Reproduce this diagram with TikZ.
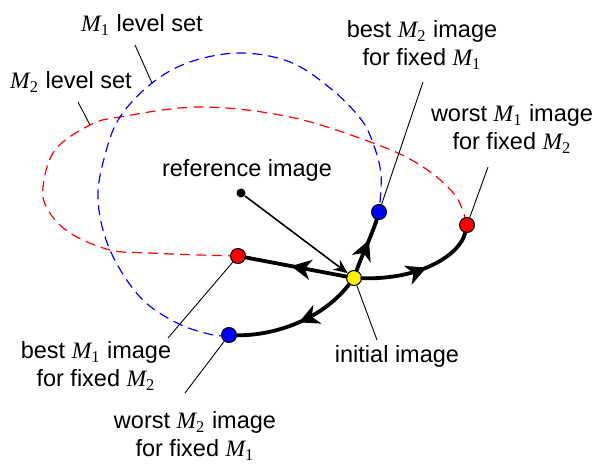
\documentclass[tikz,border=0pt]{standalone}
\usepackage{fontspec}
\setmainfont{Liberation Sans}
\newfontfamily\serifM{Liberation Serif}
\newcommand{\Mx}[1]{{\serifM\itshape M}\textsubscript{\serifM #1}}
\usetikzlibrary{arrows.meta, decorations.markings}

\begin{document}
\begin{tikzpicture}[x=0.5pt, y=-0.5pt,
  lbl/.style={font=\fontsize{11.75}{14}\selectfont, align=center, inner sep=0pt},
  dot/.style={circle, draw=black, line width=0.5pt, minimum size=7.5pt, inner sep=0pt},
  leader/.style={draw=black, line width=0.45pt},
  levelset/.style={dash pattern=on 5pt off 3pt, line width=0.6pt},
  move/.style={line width=1.9pt, line cap=round, postaction={decorate},
    decoration={markings, mark=at position #1 with {\arrow{Stealth[length=10pt,width=10pt,inset=3pt]}}}},
  move/.default=0.5,
]
\useasboundingbox (0,0) rectangle (593,464);

\draw[levelset, red] plot[smooth, tension=0.6] coordinates {(238,256) (200,255) (150,253)
  (110,250) (70,233) (48,210) (43,187) (55,150) (90,125) (120,117) (200,107) (290,117)
  (373,143) (420,165) (455,195) (467,225)};
\draw[levelset, blue] plot[smooth, tension=0.6] coordinates {(229,335) (213,335) (177,323)
  (140,297) (110,250) (98,200) (105,155) (120,117) (152,83) (190,62) (240,53) (290,62)
  (330,88) (360,118) (373,143) (381,175) (379,212)};

\node[dot, fill=yellow] (init) at (354,278) {};
\node[dot, fill=blue] (bestB) at (379,212) {};
\node[dot, fill=red] (worstR) at (467,225) {};
\node[dot, fill=red] (bestR) at (238,256) {};
\node[dot, fill=blue] (worstB) at (229,335) {};
\node[circle, fill=black, minimum size=4.5pt, inner sep=0pt] (ref) at (241,193) {};

\node[lbl] (refLbl) at (247,170) {reference image};
\node[lbl] (initLbl) at (397,356) {initial image};
\node[lbl] (m1Lbl) at (142,25) {\Mx{1} level set};
\node[lbl] (m2Lbl) at (71,82) {\Mx{2} level set};
\node[lbl] (bestBLbl) at (422,45) {best \Mx{2} image\\for fixed \Mx{1}};
\node[lbl] (worstRLbl) at (512,129) {worst \Mx{1} image\\for fixed \Mx{2}};
\node[lbl] (bestRLbl) at (96,366) {best \Mx{1} image\\for fixed \Mx{2}};
\node[lbl] (worstBLbl) at (195,436) {worst \Mx{2} image\\for fixed \Mx{1}};

\coordinate (m1Start) at (135,45);
\coordinate (m1End) at (152,83);
\coordinate (m2Start) at (78,102);
\coordinate (m2End) at (90,125);
\coordinate (bestBStart) at (423,82);
\coordinate (worstRStart) at (488,167);
\coordinate (bestRStart) at (168,338);
\coordinate (worstBStart) at (185,393);
\coordinate (initEnd) at (377,340);

\draw[leader] (m1Start) -- (m1End);
\draw[leader] (m2Start) -- (m2End);
\draw[leader] (bestBStart) -- (bestB);
\draw[leader] (worstRStart) -- (worstR);
\draw[leader] (bestRStart) -- (bestR);
\draw[leader] (worstBStart) -- (worstB);
\draw[leader] (init) -- (initEnd);

\draw[-{Stealth[length=7pt,width=6pt]}, line width=0.8pt] (ref) -- (init);

\draw[move=0.6] (init) .. controls (362,255) and (372,235) .. (bestB);
\draw[move=0.55] (init) .. controls (420,280) and (460,255) .. (worstR);
\draw[move=0.55] (init) -- (bestR);
\draw[move] (init) .. controls (320,322) and (270,336) .. (worstB);
\end{tikzpicture}
\end{document}
